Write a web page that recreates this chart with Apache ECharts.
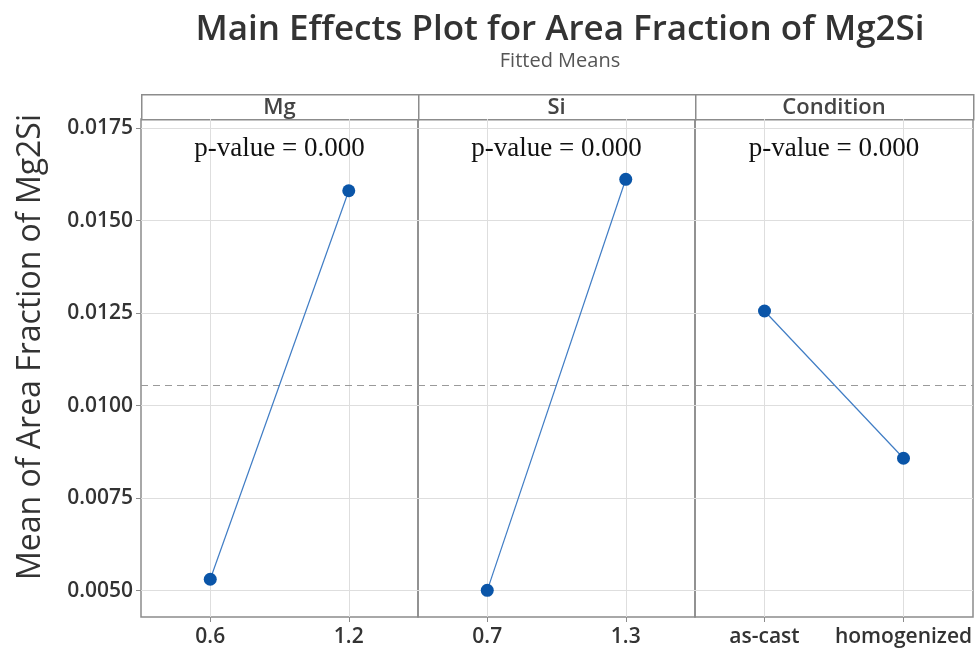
<!DOCTYPE html>
<html><head><meta charset="utf-8">
<script src="https://cdn.jsdelivr.net/npm/echarts@6/dist/echarts.min.js"></script>
<style>html,body{margin:0;padding:0;background:#fff}#c{width:977px;height:653px}</style>
</head><body><div id="c"></div>
<script>
const panelNames = ['Mg', 'Si', 'Condition'];
const mgCats = ['0.6', '1.2'];
const mgMeans = [0.00531, 0.01581];
const siCats = ['0.7', '1.3'];
const siMeans = [0.00501, 0.01612];
const condCats = ['as-cast', 'homogenized'];
const condMeans = [0.01256, 0.00858];
const overallMean = 0.01056;
const pValues = ['0.000', '0.000', '0.000'];
const yTicks = [0.0050, 0.0075, 0.0100, 0.0125, 0.0150, 0.0175];
const yMin = 0.00429, yMax = 0.01775;

const cats = [mgCats, siCats, condCats];
const means = [mgMeans, siMeans, condMeans];
const lefts = [141, 418, 695];
const widths = [277, 277, 278];
const plotTop = 119, plotHeight = 498, headTop = 94;

const chart = echarts.init(document.getElementById('c'), null, {renderer: 'canvas'});
const grids = [], xAxes = [], yAxes = [], series = [], graphics = [];
for (let i = 0; i < 3; i++) {
  grids.push({left: lefts[i], top: plotTop, width: widths[i], height: plotHeight, show: true,
    borderColor: '#8c8c8c', borderWidth: 1.5, backgroundColor: 'transparent'});
  xAxes.push({type: 'category', gridIndex: i, data: cats[i], boundaryGap: true,
    axisLine: {show: false},
    axisTick: {show: true, alignWithLabel: true, interval: 0, length: 5, lineStyle: {color: '#8c8c8c'}},
    axisLabel: {interval: 0, hideOverlap: false, fontFamily: 'Open Sans', fontSize: 21, fontWeight: 600,
      color: '#333', margin: 10},
    splitLine: {show: false}});
  yAxes.push({type: 'value', gridIndex: i, min: yMin, max: yMax,
    axisLine: {show: false},
    axisTick: {show: i === 0, length: 5, customValues: yTicks, lineStyle: {color: '#8c8c8c'}},
    axisLabel: {show: i === 0, customValues: yTicks, fontFamily: 'Open Sans', fontSize: 21, fontWeight: 600,
      color: '#333', margin: 8, formatter: v => v.toFixed(4)},
    splitLine: {show: false}});
  series.push({type: 'line', xAxisIndex: i, yAxisIndex: i, data: means[i],
    symbol: 'circle', symbolSize: 13,
    itemStyle: {color: '#0a55a8'}, lineStyle: {color: '#3f7cc4', width: 1.2},
    z: 5,
    markLine: {silent: true, symbol: 'none', precision: 8, label: {show: false},
      lineStyle: {color: '#dedede', width: 1, type: 'solid'}, z: 1,
      data: yTicks.map(v => ({yAxis: v})).concat(cats[i].map(c => ({xAxis: c})))}});
  series.push({type: 'line', xAxisIndex: i, yAxisIndex: i, data: [],
    markLine: {silent: true, symbol: 'none', precision: 8, label: {show: false},
      lineStyle: {color: '#9a9a9a', width: 1.2, type: [7, 5]}, z: 2,
      data: [{yAxis: overallMean}]}});
  graphics.push({type: 'rect', left: lefts[i], top: headTop,
    shape: {width: widths[i], height: plotTop - headTop},
    style: {fill: '#fff', stroke: '#8c8c8c', lineWidth: 1.5}});
  graphics.push({type: 'text', x: lefts[i] + widths[i] / 2, y: headTop + (plotTop - headTop) / 2 + 1,
    style: {text: panelNames[i], fontFamily: 'Open Sans', fontSize: 22, fontWeight: 600, fill: '#444',
      textAlign: 'center', textVerticalAlign: 'middle'}});
  graphics.push({type: 'text', x: lefts[i] + widths[i] / 2, y: 149,
    style: {text: 'p-value = ' + pValues[i], fontFamily: 'Liberation Serif', fontSize: 27, fill: '#111',
      textAlign: 'center', textVerticalAlign: 'middle'}, z: 10});
}
graphics.push({type: 'text', x: 31, y: 347, rotation: Math.PI / 2,
  style: {text: 'Mean of Area Fraction of Mg2Si', fontFamily: 'Open Sans', fontSize: 32, fill: '#333',
    textAlign: 'center', textVerticalAlign: 'middle'}});

chart.setOption({
  animation: false,
  title: {text: 'Main Effects Plot for Area Fraction of Mg2Si', subtext: 'Fitted Means',
    left: 555, top: 8, textAlign: 'center', itemGap: 3,
    textStyle: {fontFamily: 'Open Sans', fontSize: 35, fontWeight: 600, color: '#333'},
    subtextStyle: {fontFamily: 'Open Sans', fontSize: 20, color: '#555'}},
  grid: grids, xAxis: xAxes, yAxis: yAxes, series: series, graphic: graphics
});
</script></body></html>
